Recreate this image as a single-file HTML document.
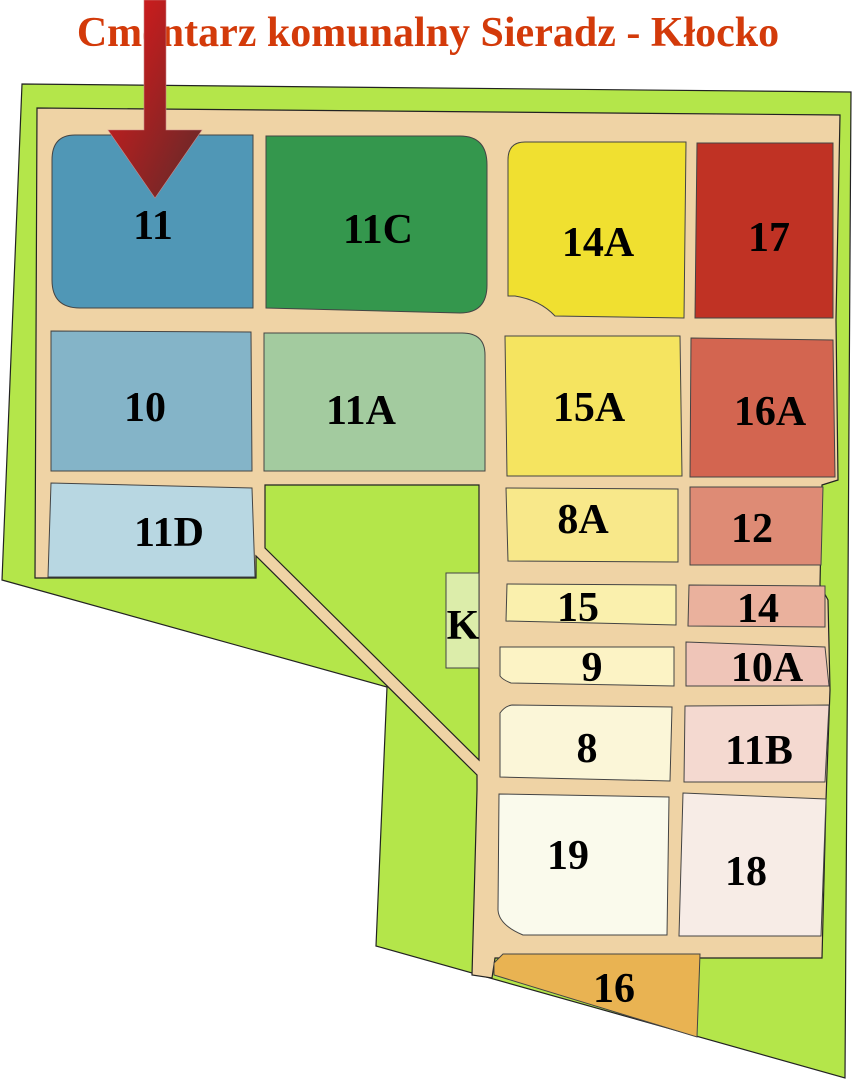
<!DOCTYPE html>
<html><head><meta charset="utf-8"><style>
html,body{margin:0;padding:0;background:#fff;width:852px;height:1081px;overflow:hidden}
svg text{font-family:"Liberation Serif",serif;font-weight:bold}
</style></head><body>
<svg width="852" height="1081" viewBox="0 0 852 1081" xmlns="http://www.w3.org/2000/svg">
<defs>
<linearGradient id="ag" x1="0" y1="0" x2="1" y2="1">
<stop offset="0" stop-color="#e3191a"/><stop offset="1" stop-color="#5e2a2a"/>
</linearGradient>
</defs>
<g stroke="#222" stroke-width="1.2">
<polygon points="22,84 851,92 845,1078 376,946 387,687 2,580" fill="#b4e64a"/>
<polygon points="37,108 840,115 836,320 838,480 822,485 820,585 828,600 830,690 826,800 822,958 495,958 492,978 472,975 477,790 477,775 256,556 256,578 35,578" fill="#efd3a5"/>
<polygon points="265,485 479,485 479,760 265,548" fill="#b4e64a"/>
</g>
<g stroke="#444" stroke-width="1">
<path d="M75,135 H253 V308 H80 Q52,308 52,280 V160 Q52,135 75,135Z" fill="#5097b6"/>
<path d="M266,136 H460 Q487,136 487,165 V285 Q487,313 460,313 L266,308Z" fill="#34974d"/>
<path d="M525,142 H686 L684,318 L555,316 Q540,300 515,296 L508,296 V160 Q508,142 525,142Z" fill="#f0e030"/>
<polygon points="697,143 833,143 833,318 695,318" fill="#c03224"/>
<polygon points="51,331 251,332 252,471 51,471" fill="#84b4c8"/>
<path d="M264,333 H462 Q485,333 485,355 V471 H264Z" fill="#a3cb9f"/>
<polygon points="505,336 680,336 682,476 507,476" fill="#f5e460"/>
<polygon points="691,338 833,340 835,477 690,477" fill="#d36550"/>
<polygon points="51,483 252,488 255,577 48,577" fill="#b8d7e2"/>
<polygon points="506,488 678,489 678,562 508,561" fill="#f8e88a"/>
<polygon points="690,487 823,487 821,565 690,565" fill="#de8b75"/>
<polygon points="446,573 479,573 479,668 446,668" fill="#dcedaa"/>
<polygon points="507,584 676,585 676,625 506,621" fill="#faf0ad"/>
<polygon points="689,585 825,586 825,627 688,626" fill="#eab19d"/>
<path d="M500,647 H674 V686 L511,683 Q503,680 500,676Z" fill="#fcf3c5"/>
<polygon points="686,642 825,647 829,686 686,686" fill="#efc5b8"/>
<path d="M512,705 L672,707 L670,781 L500,777 V713 Q505,706 512,705Z" fill="#fbf6d8"/>
<polygon points="685,706 829,705 825,782 684,782" fill="#f4d9d0"/>
<path d="M499,794 L669,797 L667,935 L523,935 Q499,925 498,910Z" fill="#fafaec"/>
<polygon points="683,793 826,799 821,936 679,936" fill="#f7ece6"/>
<polygon points="503,954 700,954 697,1037 494,975 494,963" fill="#e9b352"/>
</g>
<text x="428" y="46" font-size="42" fill="#d33a0a" text-anchor="middle">Cmentarz komunalny Sieradz - Kłocko</text>
<g font-size="42" fill="#000" text-anchor="middle">
<text x="153" y="239">11</text>
<text x="378" y="243">11C</text>
<text x="598" y="256">14A</text>
<text x="769" y="251">17</text>
<text x="145" y="421">10</text>
<text x="361" y="424">11A</text>
<text x="589" y="421">15A</text>
<text x="770" y="425">16A</text>
<text x="169" y="546">11D</text>
<text x="583" y="533">8A</text>
<text x="752" y="542">12</text>
<text x="578" y="621">15</text>
<text x="758" y="622">14</text>
<text x="592" y="681">9</text>
<text x="767" y="681">10A</text>
<text x="587" y="762">8</text>
<text x="759" y="764">11B</text>
<text x="568" y="869">19</text>
<text x="746" y="885">18</text>
<text x="614" y="1002">16</text>
<text x="463" y="639">K</text>
</g>
<polygon points="144,0 166,0 166,130 202,130 155,198 108,130 144,130" fill="url(#ag)" stroke="#c88" stroke-width="0.6"/>
</svg>
</body></html>
